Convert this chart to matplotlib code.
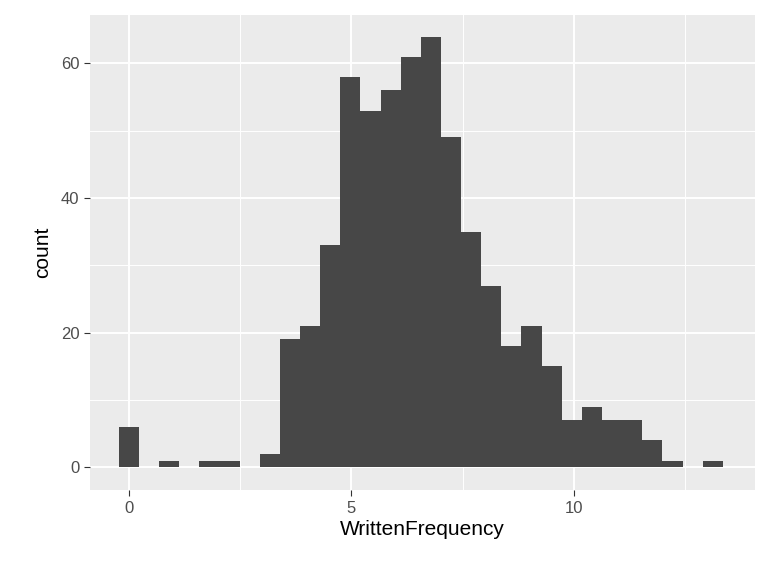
import numpy as np
import matplotlib
matplotlib.use("Agg")
import matplotlib.pyplot as plt

# histogram: 30 bins, width ~0.4525, first centred at 0
bin_width = 0.4525
counts = [6, 0, 1, 0, 1, 1, 0, 2, 19, 21, 33, 58, 53, 56, 61, 64, 49, 35,
          27, 18, 21, 15, 7, 9, 7, 7, 4, 1, 0, 1]
centers = np.arange(len(counts)) * bin_width

plt.rcParams['font.family'] = ['Liberation Sans', 'DejaVu Sans']
fig = plt.figure(figsize=(7.68, 5.76), dpi=100)
ax = fig.add_axes([0.117, 0.149, 0.866, 0.825])
ax.set_facecolor("#EBEBEB")
ax.bar(centers, counts, width=bin_width, color="#474747", linewidth=0, zorder=3)

ax.set_xlim(-0.876, 14.07)
ax.set_ylim(-3.4, 67.2)
ax.set_xticks([0, 5, 10])
ax.set_yticks([0, 20, 40, 60])
ax.set_xticks([2.5, 7.5, 12.5], minor=True)
ax.set_yticks([10, 30, 50], minor=True)
ax.grid(which="major", color="white", linewidth=1.4, zorder=1)
ax.grid(which="minor", color="white", linewidth=0.7, zorder=1)
for s in ax.spines.values():
    s.set_visible(False)
ax.tick_params(which="major", length=4, color="#333333", labelsize=12, labelcolor="#4D4D4D")
ax.tick_params(which="minor", length=0)
ax.set_xlabel("WrittenFrequency", fontsize=15, labelpad=3)
ax.set_ylabel("count", fontsize=15, labelpad=6)

fig.savefig("out.png", dpi=100)
